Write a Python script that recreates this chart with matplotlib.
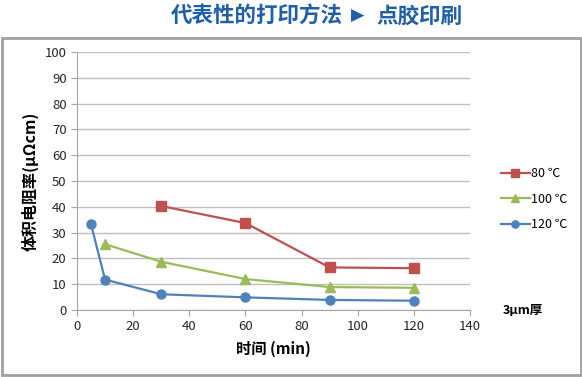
import matplotlib
matplotlib.use("Agg")
import matplotlib.pyplot as plt
from matplotlib.patches import Rectangle

plt.rcParams['font.family'] = ['Noto Sans CJK SC', 'DejaVu Sans']

# data
x_80 = [30, 60, 90, 120]
y_80 = [40.3, 33.7, 16.5, 16.2]
x_100 = [10, 30, 60, 90, 120]
y_100 = [25.5, 18.7, 12.0, 8.9, 8.6]
x_120 = [5, 10, 30, 60, 90, 120]
y_120 = [33.2, 11.8, 6.1, 4.9, 3.9, 3.6]
labels = ['80 ℃', '100 ℃', '120 ℃']
colors = ['#C0504D', '#9BBB59', '#4F81BD']
x_ticks = [0, 20, 40, 60, 80, 100, 120, 140]
y_ticks = [0, 10, 20, 30, 40, 50, 60, 70, 80, 90, 100]

W, H = 582, 377
fig = plt.figure(figsize=(W / 100, H / 100), dpi=100)

# plot area in pixel coords: left 77, right 470, top 52, bottom 310
ax = fig.add_axes([77 / W, 1 - 310 / H, (470 - 77) / W, (310 - 52) / H])

ax.plot(x_80, y_80, color=colors[0], marker='s', markersize=6.5, lw=1.6, label=labels[0])
ax.plot(x_100, y_100, color=colors[1], marker='^', markersize=7, lw=1.6, label=labels[1])
ax.plot(x_120, y_120, color=colors[2], marker='o', markersize=6.5, lw=1.6, label=labels[2])

ax.set_xlim(0, 140)
ax.set_ylim(0, 100)
ax.set_xticks(x_ticks)
ax.set_yticks(y_ticks)
ax.yaxis.grid(True, color='#BFBFBF', lw=1)
ax.set_axisbelow(True)
for s in ['top', 'right']:
    ax.spines[s].set_visible(False)
for s in ['left', 'bottom']:
    ax.spines[s].set_color('#A6A6A6')
ax.tick_params(axis='both', colors='#A6A6A6', labelcolor='#262626', labelsize=9.5, length=4)

ax.set_xlabel('时间 (min)', fontsize=11, fontweight='bold', labelpad=5)
ax.set_ylabel('体积电阻率(μΩcm)', fontsize=11.5, fontweight='bold', labelpad=4)

leg = ax.legend(loc='center left', bbox_to_anchor=(1.05, 0.43), frameon=False,
                fontsize=9, handlelength=2.3, labelspacing=1.0, handletextpad=0.1,
                markerscale=0.8)

fig.text(503 / W, 1 - 311 / H, '3μm厚', fontsize=9, fontweight='bold', va='center')

# title
title_col = '#1F5FAA'
fig.text(343 / W, 1 - 16 / H, '代表性的打印方法', fontsize=15.5, fontweight='bold',
         color=title_col, ha='right', va='center')
fig.text(358 / W, 1 - 16 / H, '▶', fontsize=12.5, color=title_col, ha='center', va='center',
         family='DejaVu Sans')
fig.text(376 / W, 1 - 16 / H, '点胶印刷', fontsize=15.5, fontweight='bold',
         color=title_col, ha='left', va='center')

# outer frame
fig.patches.append(Rectangle((1.5 / W, 2.5 / H), (W - 3) / W, (H - 40) / H,
                             transform=fig.transFigure, fill=False,
                             edgecolor='#A0A0A0', lw=2))

fig.savefig('out.png', dpi=100)
